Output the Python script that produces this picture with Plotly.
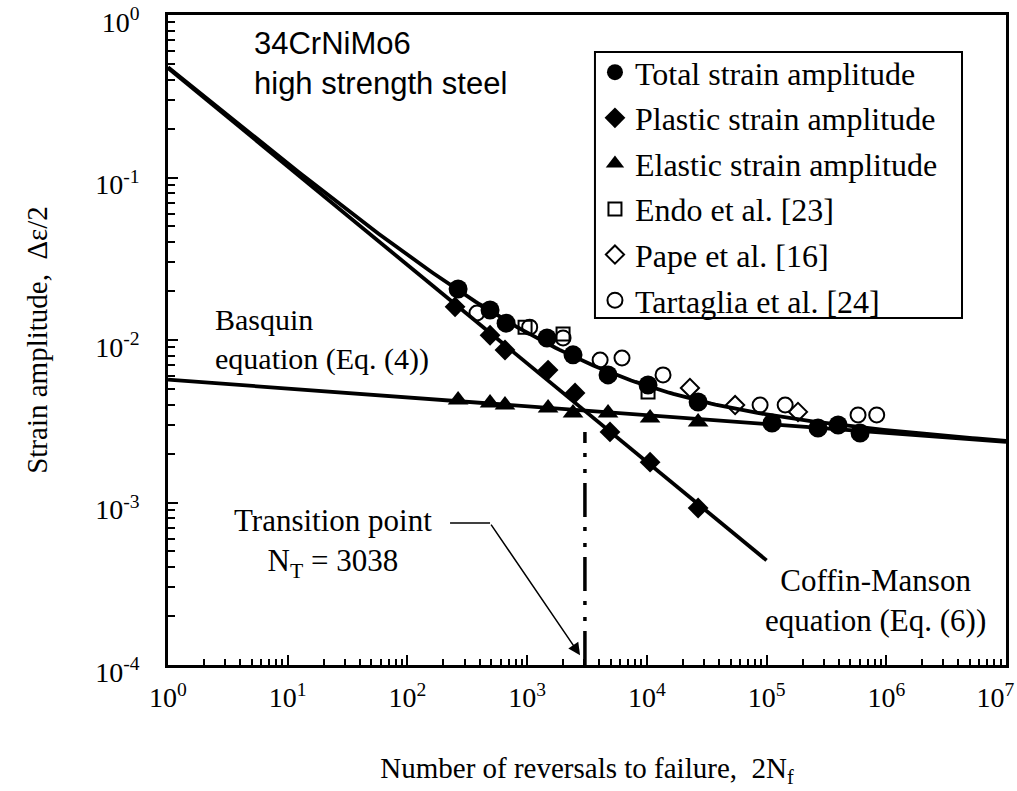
import numpy as np
import plotly.graph_objects as go

# ---------------- data ----------------
total_N = [265, 490, 667, 1466, 2417, 4740, 10230, 26800, 111000, 269000, 396000, 604000]
total_e = [0.0206, 0.0153, 0.0127, 0.0103, 0.0081, 0.0061, 0.00529, 0.00415, 0.00308, 0.00287, 0.0030, 0.00268]

plastic_N = [250, 490, 653, 1496, 2513, 4920, 10640, 26800]
plastic_e = [0.0160, 0.0107, 0.00868, 0.00653, 0.00472, 0.00272, 0.00177, 0.000925]

elastic_N = [265, 490, 653, 1496, 2417, 4740, 10640, 26800]
elastic_e = [0.00427, 0.00410, 0.00398, 0.00382, 0.00356, 0.00356, 0.00331, 0.00313]

endo_N = [961, 1995, 10230]
endo_e = [0.0120, 0.0109, 0.00479]

pape_N = [22900, 54600, 183000]
pape_e = [0.00507, 0.00398, 0.00361]

tart_N = [381, 1050, 1995, 4070, 6200, 13650, 88300, 143000, 581000, 832000]
tart_e = [0.01466, 0.0120, 0.0103, 0.00753, 0.00775, 0.0061, 0.00398, 0.00398, 0.00346, 0.00346]

# fitted equations (coefficients)
basq_coef, basq_exp = 0.0057, -0.0546      # Basquin, Eq. (4)
cm_coef, cm_exp = 0.472, -0.606            # Coffin-Manson, Eq. (6)
basq_range = [1, 1e7]
cm_range = [1, 1e5]
N_T = 3038
trans_top = 0.00272

x_tickvals = [1, 10, 100, 1e3, 1e4, 1e5, 1e6, 1e7]
x_ticktext = ["10<sup>0</sup>", "10<sup>1</sup>", "10<sup>2</sup>", "10<sup>3</sup>",
              "10<sup>4</sup>", "10<sup>5</sup>", "10<sup>6</sup>", "10<sup>7</sup>\u00a0\u00a0\u00a0"]
y_tickvals = [1e-4, 1e-3, 1e-2, 1e-1, 1]
y_ticktext = ["10<sup>-4</sup>", "10<sup>-3</sup>", "10<sup>-2</sup>", "10<sup>-1</sup>", "10<sup>0</sup>"]

x_minor = [m * 10 ** d for d in range(0, 7) for m in range(2, 10)]
y_minor = [m * 10.0 ** d for d in range(-4, 0) for m in range(2, 10)]

SERIF = "Liberation Serif, Times New Roman, serif"

# ---------------- curves ----------------
Nb = np.logspace(np.log10(basq_range[0]), np.log10(basq_range[1]), 200)
Nc = np.logspace(np.log10(cm_range[0]), np.log10(cm_range[1]), 200)
el_line = basq_coef * Nb ** basq_exp
pl_line = cm_coef * Nc ** cm_exp
tot_line = basq_coef * Nb ** basq_exp + cm_coef * Nb ** cm_exp

fig = go.Figure()
line_style = dict(color="black", width=3.8)
fig.add_trace(go.Scatter(x=Nb, y=el_line, mode="lines", line=line_style, showlegend=False, hoverinfo="skip"))
fig.add_trace(go.Scatter(x=Nc, y=pl_line, mode="lines", line=line_style, showlegend=False, hoverinfo="skip"))
fig.add_trace(go.Scatter(x=Nb, y=tot_line, mode="lines", line=line_style, showlegend=False, hoverinfo="skip"))

# transition dash-dot line
fig.add_trace(go.Scatter(x=[N_T, N_T], y=[1e-4, trans_top], mode="lines",
                         line=dict(color="black", width=3.5, dash="34px,10px,4px,12px,4px,10px"),
                         showlegend=False, hoverinfo="skip"))

# markers
fig.add_trace(go.Scatter(x=total_N, y=total_e, mode="markers", name="Total strain amplitude",
                         legendgroup="a", marker=dict(symbol="circle", size=19, color="black")))
fig.add_trace(go.Scatter(x=plastic_N, y=plastic_e, mode="markers", name="Plastic strain amplitude",
                         legendgroup="b", marker=dict(symbol="diamond", size=16, color="black")))
fig.add_trace(go.Scatter(x=elastic_N, y=elastic_e, mode="markers", name="Elastic strain amplitude",
                         legendgroup="c", marker=dict(symbol="triangle-up", size=18, color="black")))
fig.add_trace(go.Scatter(x=endo_N, y=endo_e, mode="markers", name="Endo et al. [23]",
                         legendgroup="d", marker=dict(symbol="square-open", size=13, color="black",
                                                      line=dict(width=2))))
fig.add_trace(go.Scatter(x=pape_N, y=pape_e, mode="markers", name="Pape et al. [16]",
                         legendgroup="e", marker=dict(symbol="diamond-open", size=14, color="black",
                                                      line=dict(width=2))))
fig.add_trace(go.Scatter(x=tart_N, y=tart_e, mode="markers", name="Tartaglia et al. [24]",
                         legendgroup="f", marker=dict(symbol="circle-open", size=15, color="black",
                                                      line=dict(width=2))))

# leader segment for the transition-point label
fig.add_trace(go.Scatter(x=[227, 490], y=[7.48e-4, 7.48e-4], mode="lines",
                         line=dict(color="black", width=1.5), showlegend=False, hoverinfo="skip"))

# invisible trace that carries the minor-tick overlay axes
fig.add_trace(go.Scatter(x=[10], y=[1e-3], xaxis="x2", yaxis="y2", mode="markers",
                         marker=dict(opacity=0), showlegend=False, hoverinfo="skip"))

annos = [
    dict(x=np.log10(2767), y=np.log10(1.15e-4), ax=-90, ay=-132, text="", showarrow=True,
         arrowhead=2, arrowsize=1.6, arrowwidth=1.5, arrowcolor="black", xref="x", yref="y"),
    dict(x=np.log10(2.38), y=np.log10(0.01014), xref="x", yref="y", xanchor="left", yanchor="middle",
         text="Basquin<br>equation (Eq. (4))", showarrow=False, align="left",
         font=dict(family=SERIF, size=30, color="black")),
    dict(x=np.log10(23.9), y=np.log10(5.63e-4), xref="x", yref="y", xanchor="center", yanchor="middle",
         text="Transition point<br>N<sub>T</sub> = 3038", showarrow=False, align="center",
         font=dict(family=SERIF, size=31, color="black")),
    dict(x=np.log10(8.06e5), y=np.log10(2.48e-4), xref="x", yref="y", xanchor="center", yanchor="middle",
         text="Coffin-Manson<br>equation (Eq. (6))", showarrow=False, align="center",
         font=dict(family=SERIF, size=31, color="black")),
    dict(x=np.log10(5.0), y=np.log10(0.88), xref="x", yref="y", xanchor="left", yanchor="top",
         text="34CrNiMo6<br>high strength steel", showarrow=False, align="left",
         font=dict(family="Liberation Sans, Arial, sans-serif", size=31, color="black")),
]

axis_common = dict(
    type="log", showgrid=False, zeroline=False, showline=True, linecolor="black", linewidth=2.5,
    mirror=True, ticks="inside", ticklen=10, tickwidth=2, tickcolor="black",
    ticklabeloverflow="allow",
    tickfont=dict(family=SERIF, size=28, color="black"),
)
minor_common = dict(
    type="log", showgrid=False, zeroline=False, showline=False, ticks="inside", tickwidth=1.5,
    tickcolor="black", showticklabels=False, tickmode="array",
)

fig.update_layout(
    width=1017, height=791,
    margin=dict(l=168, r=11, t=15, b=126, autoexpand=False),
    paper_bgcolor="white", plot_bgcolor="white",
    font=dict(family=SERIF, color="black"),
    xaxis=dict(axis_common, range=[0, 7], tickmode="array", tickvals=x_tickvals, ticktext=x_ticktext,
               ticklabelstandoff=6,
               title=dict(text="Number of reversals to failure,  2N<sub>f</sub>",
                          font=dict(family=SERIF, size=29), standoff=46)),
    yaxis=dict(axis_common, range=[-4, 0], tickmode="array", tickvals=y_tickvals, ticktext=y_ticktext,
               ticklabelstandoff=20, ticklabelshift=7,
               title=dict(text="Strain amplitude,  Δε/2",
                          font=dict(family=SERIF, size=29), standoff=40)),
    xaxis2=dict(minor_common, range=[0, 7], tickvals=x_minor, ticklen=6, overlaying="x",
                anchor="y", side="bottom"),
    yaxis2=dict(minor_common, range=[-4, 0], tickvals=y_minor, ticklen=7, overlaying="y",
                anchor="x", side="left"),
    legend=dict(x=0.5095, y=0.954, xanchor="left", yanchor="top", bgcolor="rgba(0,0,0,0)",
                borderwidth=0, font=dict(family=SERIF, size=32, color="black"),
                tracegroupgap=1, itemwidth=30),
    shapes=[dict(type="rect", xref="paper", yref="paper", x0=0.5095, x1=0.9475, y0=0.534, y1=0.943,
                 line=dict(color="black", width=2), fillcolor="rgba(0,0,0,0)", layer="below")],
    annotations=annos,
    showlegend=True,
)

fig.write_html("out.html")
